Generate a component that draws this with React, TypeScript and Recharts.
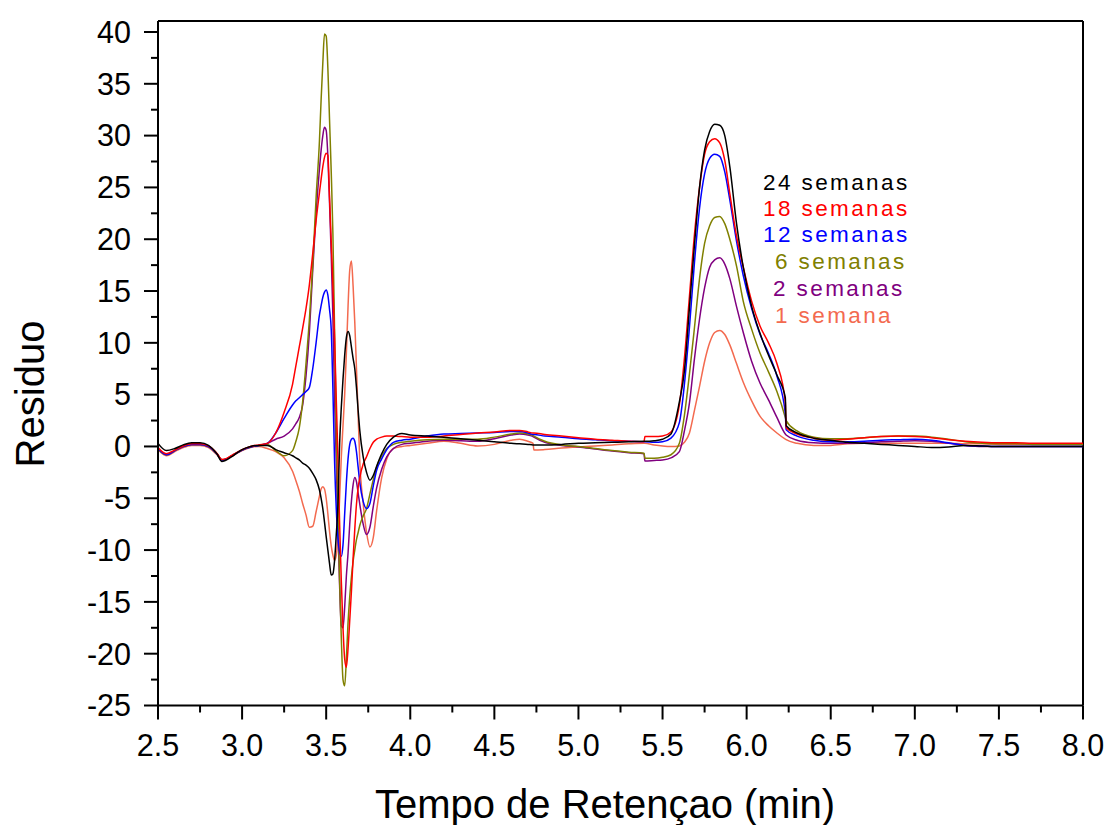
import React from 'react';
import { LineChart, Line, XAxis, YAxis, ReferenceLine } from 'recharts';

// retention time (min)
const times = [
  2.5, 2.55, 2.6, 2.65, 2.7, 2.75, 2.8, 2.85, 2.88, 2.9, 2.95, 3.0, 3.05, 3.1, 3.15, 3.2, 3.25,
  3.3, 3.32, 3.34, 3.36, 3.38, 3.4, 3.42, 3.44, 3.46,
  3.47, 3.48, 3.49, 3.5, 3.51, 3.52, 3.53, 3.54, 3.55, 3.56, 3.57, 3.58, 3.59, 3.6, 3.61, 3.62,
  3.63, 3.64, 3.65, 3.66, 3.67, 3.68, 3.69, 3.7,
  3.72, 3.74, 3.76, 3.78, 3.8, 3.83, 3.86, 3.9, 3.95, 4.0,
  4.1, 4.2, 4.3, 4.4, 4.5, 4.6, 4.65, 4.7, 4.73, 4.735, 4.8, 4.9, 5.0, 5.1, 5.2, 5.3, 5.39, 5.395,
  5.45, 5.5, 5.55, 5.6,
  5.63, 5.66, 5.69, 5.72, 5.75, 5.78, 5.81, 5.84, 5.87, 5.9, 5.94, 5.98, 6.03, 6.08, 6.13, 6.18,
  6.23, 6.235,
  6.3, 6.4, 6.5, 6.6, 6.7, 6.8, 6.9, 7.0, 7.1, 7.2, 7.3, 7.4, 7.5, 7.6, 7.7, 7.8, 7.9, 8.0,
];

const sem24 = [
  0.3, -0.4, -0.2, 0.15, 0.35, 0.35, 0.1, -0.7, -1.45, -1.35, -0.85, -0.3, 0.0, 0.1, 0.1, -0.3, -0.6,
  -0.9, -1.1, -1.3, -1.6, -1.8, -2.1, -2.6, -3.2, -4.2,
  -5.0, -6.0, -7.3, -8.7, -10.0, -11.3, -12.4, -12.3, -11.0, -8.5, -5.6, 0.3, 3.8, 6.5, 8.8, 10.5,
  11.1, 10.7, 9.6, 8.5, 7.5, 5.7, 3.5, 1.5,
  -1.0, -2.5, -3.25, -2.8, -1.9, -0.7, 0.2, 0.9, 1.25, 1.1,
  1.0, 0.9, 0.75, 0.6, 0.45, 0.3, 0.25, 0.2, 0.15, 0.15, 0.15, 0.2, 0.3, 0.35, 0.4, 0.45, 0.5, 0.5,
  0.55, 0.7, 1.2, 4.3,
  7.3, 13.4, 19.5, 25.0, 28.6, 30.4, 31.1, 31.0, 30.0, 27.0, 21.5, 17.3, 13.5, 10.9, 8.8, 6.9,
  4.7, 2.0,
  1.3, 0.8, 0.6, 0.4, 0.3, 0.2, 0.1, 0.0, -0.1, -0.05, 0.1, 0.05, 0.0, 0.0, 0.0, 0.0, 0.0, 0.0,
];

const sem18 = [
  -0.1, -0.7, -0.35, 0.05, 0.25, 0.25, 0.05, -0.65, -1.25, -1.2, -0.75, -0.3, 0.0, 0.15, 0.3, 1.3, 3.3,
  6.0, 7.8, 9.6, 11.4, 13.3, 15.6, 18.6, 21.8, 24.5,
  25.8, 27.0, 27.9, 28.3, 28.1, 24.0, 19.8, 15.5, 10.5, 4.5, -1.2, -7.5, -13.0, -17.5, -20.5, -21.3,
  -19.5, -16.8, -14.0, -10.8, -8.0, -5.6, -4.0, -3.0,
  -1.7, -1.0, -0.2, 0.4, 0.7, 0.9, 1.0, 1.0, 0.95, 0.9,
  0.9, 1.0, 1.15, 1.3, 1.4, 1.55, 1.55, 1.4, 1.3, 1.3, 1.15, 1.0, 0.85, 0.7, 0.6, 0.5, 0.45, 0.95,
  0.95, 1.0, 1.4, 4.0,
  8.5, 14.5, 20.5, 25.0, 28.2, 29.4, 29.7, 29.3, 27.6, 24.4, 20.3, 17.3, 14.0, 11.6, 10.0, 8.0,
  4.3, 1.8,
  1.2, 0.8, 0.6, 0.7, 0.85, 0.95, 1.0, 0.95, 0.85, 0.65, 0.5, 0.4, 0.35, 0.35, 0.3, 0.3, 0.3, 0.3,
];

const sem12 = [
  -0.2, -0.8, -0.4, 0.0, 0.2, 0.2, 0.0, -0.7, -1.3, -1.25, -0.8, -0.35, -0.05, 0.1, 0.3, 1.3, 2.7,
  4.0, 4.4, 4.7, 5.0, 5.3, 5.7, 7.5, 10.0, 12.7,
  13.6, 14.4, 14.9, 15.1, 14.6, 13.2, 11.3, 5.5, -1.5, -6.0, -8.8, -10.2, -10.6, -9.5, -6.5, -3.5,
  -1.2, 0.2, 0.7, 0.8, 0.5, -0.5, -2.0, -3.5,
  -5.3, -6.0, -5.5, -3.8, -2.3, -1.2, -0.3, 0.4, 0.6, 0.7,
  1.0, 1.2, 1.25, 1.3, 1.35, 1.45, 1.45, 1.3, 1.15, 1.15, 1.0, 0.9, 0.75, 0.65, 0.55, 0.5, 0.45, 0.45,
  0.4, 0.45, 0.8, 2.3,
  6.0, 11.5, 17.8, 23.0, 26.3, 27.8, 28.2, 28.0, 26.5, 23.8, 19.8, 16.5, 13.3, 10.8, 9.0, 6.8,
  3.2, 1.6,
  1.0, 0.6, 0.45, 0.45, 0.5, 0.6, 0.65, 0.7, 0.6, 0.35, 0.1, 0.05, 0.0, 0.0, 0.0, 0.0, 0.0, 0.0,
];

const sem6 = [
  -0.25, -0.8, -0.4, 0.0, 0.2, 0.2, 0.0, -0.7, -1.3, -1.25, -0.8, -0.35, -0.05, 0.1, 0.2, -0.4, -0.9,
  -0.4, 0.5, 1.8, 4.3, 8.0, 12.2, 17.5, 24.0, 29.5,
  33.5, 37.0, 39.8, 39.6, 36.5, 31.5, 26.5, 20.5, 11.0, 1.5, -6.0, -13.0, -18.5, -22.5, -23.1, -20.5,
  -17.0, -14.5, -12.6, -11.1, -10.0, -9.0, -8.3, -7.6,
  -6.7, -6.0, -4.6, -3.2, -2.0, -0.9, -0.2, 0.2, 0.4, 0.5,
  0.65, 0.7, 0.7, 0.7, 0.9, 1.2, 1.3, 1.2, 1.05, 1.0, 0.5, 0.15, 0.0, -0.2, -0.4, -0.55, -0.65, -1.15,
  -1.15, -1.05, -0.8, 0.3,
  3.0, 7.0, 11.5, 16.2, 19.6, 21.3, 22.1, 22.2, 21.5, 20.0, 17.4, 14.0, 11.3, 9.0, 7.2, 5.3,
  2.8, 2.5,
  1.5, 0.9, 0.75, 0.75, 0.85, 0.95, 1.0, 1.0, 0.9, 0.7, 0.45, 0.3, 0.25, 0.25, 0.2, 0.2, 0.2, 0.2,
];

const sem2 = [
  -0.2, -0.8, -0.4, 0.0, 0.2, 0.2, 0.0, -0.7, -1.3, -1.25, -0.8, -0.35, -0.05, 0.1, 0.3, 0.7, 1.0,
  1.7, 2.2, 2.8, 4.0, 6.8, 11.0, 17.0, 22.5, 26.8,
  28.6, 30.0, 30.8, 30.5, 28.0, 23.5, 18.5, 12.5, 4.5, -1.5, -8.0, -13.5, -17.3, -17.5, -15.5, -12.5,
  -10.3, -7.5, -5.3, -3.7, -3.0, -3.4, -4.5, -5.6,
  -7.5, -8.5, -7.8, -5.8, -4.0, -2.2, -1.0, -0.2, 0.2, 0.3,
  0.5, 0.6, 0.55, 0.5, 0.75, 1.1, 1.2, 1.1, 0.95, 0.9, 0.4, 0.1, -0.05, -0.25, -0.45, -0.6, -0.7, -1.4,
  -1.35, -1.3, -1.1, -0.5,
  1.5, 4.2, 8.5, 12.3, 15.3, 17.3, 18.0, 18.2, 17.6, 16.2, 13.5, 11.0, 8.2, 6.1, 4.5, 2.8,
  1.2, 1.1,
  0.6, 0.35, 0.3, 0.3, 0.35, 0.45, 0.5, 0.55, 0.5, 0.3, 0.1, 0.0, 0.0, 0.0, 0.0, 0.0, 0.0, 0.0,
];

const sem1 = [
  -0.3, -0.9, -0.5, -0.1, 0.1, 0.1, -0.1, -0.8, -1.35, -1.3, -0.85, -0.4, -0.1, 0.0, -0.2, -0.5, -1.1,
  -2.4, -3.3, -4.3, -5.5, -6.6, -7.8, -7.7, -6.3, -4.8,
  -4.1, -3.9, -4.1, -5.0, -6.5, -8.2, -9.6, -10.5, -11.0, -10.5, -8.5, -5.0, -1.0, 2.0, 5.0, 9.0,
  13.5, 17.0, 17.9, 15.5, 12.0, 7.6, 3.0, -1.5,
  -5.5, -8.3, -9.7, -8.8, -6.2, -3.0, -1.2, -0.2, 0.0, 0.1,
  0.3, 0.5, 0.3, 0.05, 0.2, 0.6, 0.7, 0.5, 0.3, -0.35, -0.3, -0.15, -0.05, 0.05, 0.15, 0.25, 0.3, 0.3,
  0.15, 0.05, 0.0, 0.05,
  0.4, 1.3, 3.5, 5.8, 8.2, 10.0, 11.0, 11.2, 10.8, 9.8, 8.0, 6.2, 4.4, 2.9, 2.0, 1.3,
  0.7, 0.65,
  0.3, 0.1, 0.1, 0.25, 0.3, 0.3, 0.3, 0.3, 0.3, 0.3, 0.25, 0.25, 0.2, 0.2, 0.2, 0.2, 0.2, 0.2,
];

const xTicks = [2.5, 2.75, 3, 3.25, 3.5, 3.75, 4, 4.25, 4.5, 4.75, 5, 5.25, 5.5, 5.75, 6, 6.25, 6.5, 6.75, 7, 7.25, 7.5, 7.75, 8];
const yTicks = [
  -25, -22.5, -20, -17.5, -15, -12.5, -10, -7.5, -5, -2.5, 0, 2.5, 5, 7.5, 10, 12.5, 15, 17.5,
  20, 22.5, 25, 27.5, 30, 32.5, 35, 37.5, 40,
];

const seriesNames = ['1 semana', '2 semanas', '6 semanas', '12 semanas', '18 semanas', '24 semanas'];
const seriesValues = [sem1, sem2, sem6, sem12, sem18, sem24];
const seriesColors = ['#F36A4F', '#800080', '#808000', '#0000FF', '#FF0000', '#000000'];

const data = times.map((t, i) => {
  const row: Record<string, number> = { t };
  seriesValues.forEach((vals, k) => {
    row['s' + k] = vals[i];
  });
  return row;
});

const FONT = '"Liberation Sans", Arial, Helvetica, sans-serif';
const W = 1110;
const H = 825;
const TICK = 14;
const MINOR = 7;
const X_GAP = 15;
const Y_GAP = 13;
const Y_TOP = 41.06;

const XTick = (props: any) => {
  const { x, y, payload } = props;
  const v = payload.value as number;
  const major = Math.abs(v * 2 - Math.round(v * 2)) < 1e-6;
  const axisY = y - TICK - X_GAP;
  return (
    <g>
      <line x1={x} x2={x} y1={axisY} y2={axisY + (major ? TICK : MINOR)} stroke="#000" strokeWidth={2} />
      {major && (
        <text x={x} y={y} dy="0.71em" textAnchor="middle" fontSize={30.5} fill="#000" fontFamily={FONT}>
          {v.toFixed(1)}
        </text>
      )}
    </g>
  );
};

const YTick = (props: any) => {
  const { x, y, payload } = props;
  const v = payload.value as number;
  const major = v % 5 === 0;
  const axisX = x + TICK + Y_GAP;
  return (
    <g>
      <line x1={axisX - (major ? TICK : MINOR)} x2={axisX} y1={y} y2={y} stroke="#000" strokeWidth={2} />
      {major && (
        <text x={x} y={y} dy="0.355em" textAnchor="end" fontSize={30.5} fill="#000" fontFamily={FONT}>
          {v}
        </text>
      )}
    </g>
  );
};

// legend text placement in page pixels (left x, middle y)
const legendPos = [
  [775, 315],
  [773, 288],
  [775, 261],
  [763, 234],
  [763, 208],
  [763, 182],
];

export default function App() {
  return (
    <div style={{ position: 'relative', width: W, height: H, fontFamily: FONT }}>
      <style>{'html,body{margin:0;padding:0;overflow:hidden;background:#fff}'}</style>
      <LineChart width={W} height={H} data={data} margin={{ top: 21, right: 27, bottom: 59.5, left: 58 }}>
        <XAxis
          dataKey="t"
          type="number"
          domain={[2.5, 8]}
          ticks={xTicks}
          interval={0}
          height={60}
          tickSize={TICK}
          tickMargin={X_GAP}
          tickLine={false}
          tick={<XTick />}
          axisLine={{ stroke: '#000', strokeWidth: 2 }}
        />
        <YAxis
          type="number"
          domain={[-25, Y_TOP]}
          ticks={yTicks}
          interval={0}
          width={100}
          tickSize={TICK}
          tickMargin={Y_GAP}
          tickLine={false}
          tick={<YTick />}
          axisLine={{ stroke: '#000', strokeWidth: 2 }}
        />
        <ReferenceLine y={Y_TOP} stroke="#000" strokeWidth={2} ifOverflow="visible" />
        <ReferenceLine x={8} stroke="#000" strokeWidth={2} ifOverflow="visible" />
        {seriesNames.map((name, k) => (
          <Line
            key={name}
            name={name}
            dataKey={'s' + k}
            type="monotone"
            stroke={seriesColors[k]}
            strokeWidth={1.5}
            dot={false}
            activeDot={false}
            isAnimationActive={false}
          />
        ))}
      </LineChart>
      <svg
        width={W}
        height={H}
        style={{ position: 'absolute', left: 0, top: 0, pointerEvents: 'none' }}
        fontFamily={FONT}
      >
        {seriesNames.map((txt, k) => (
          <text
            key={txt}
            x={legendPos[k][0]}
            y={legendPos[k][1] + 8}
            fontSize={22.5}
            letterSpacing={2.4}
            fill={seriesColors[k]}
          >
            {txt}
          </text>
        ))}
        <text x={605} y={818} fontSize={40} textAnchor="middle" fill="#000">
          Tempo de Retençao (min)
        </text>
        <text transform="translate(44, 394) rotate(-90)" fontSize={40} textAnchor="middle" fill="#000">
          Residuo
        </text>
      </svg>
    </div>
  );
}
